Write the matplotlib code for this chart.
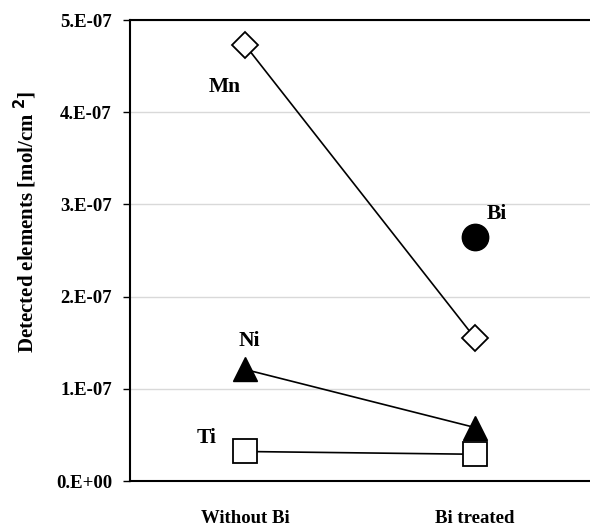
import numpy as np
import matplotlib
matplotlib.use('Agg')
import matplotlib.pyplot as plt
from matplotlib.ticker import FuncFormatter

# detected amounts [mol/cm2] per condition
conditions = ['Without Bi', 'Bi treated']
mn = [4.73e-7, 1.55e-7]
ni = [1.21e-7, 0.58e-7]
ti = [0.32e-7, 0.29e-7]
bi = [2.65e-7]
yticks = [0, 1e-7, 2e-7, 3e-7, 4e-7, 5e-7]

plt.rcParams['font.family'] = 'Liberation Serif'
plt.rcParams['font.weight'] = 'bold'

fig = plt.figure(figsize=(5.9, 5.28), dpi=100)
ax = fig.add_axes([130 / 590, 1 - 481 / 528, 460 / 590, 461 / 528])

x = np.arange(len(conditions))
ax.plot(x, mn, color='black', lw=1.2, marker='D', ms=13, mfc='white', mec='black', mew=1.3, zorder=3)
ax.plot(x, ni, color='black', lw=1.2, marker='^', ms=17, mfc='black', mec='black', zorder=3)
ax.plot(x, ti, color='black', lw=1.2, marker='s', ms=17, mfc='white', mec='black', mew=1.3, zorder=3)
ax.plot(x[1:], bi, ls='none', marker='o', ms=19, mfc='black', mec='black', zorder=3)

# element names next to their markers
lab = dict(fontsize=15.5, fontweight='bold', ha='center', va='center')
ax.text(x[0] - 0.09, mn[0] - 0.46e-7, 'Mn', **lab)
ax.text(x[1] + 0.095, bi[0] + 0.25e-7, 'Bi', **lab)
ax.text(x[0] + 0.02, ni[0] + 0.31e-7, 'Ni', **lab)
ax.text(x[0] - 0.165, ti[0] + 0.15e-7, 'Ti', **lab)

ax.set_xlim(-0.5, 1.5)
ax.set_ylim(0, 5e-7)
ax.set_yticks(yticks)
ax.yaxis.set_major_formatter(FuncFormatter(lambda v, p: '%d.E%+03d' % (round(v * 1e7), -7) if v else '0.E+00'))
ax.set_xticks(x)
ax.set_xticklabels(conditions, fontsize=13.5, fontweight='bold')
ax.tick_params(axis='x', length=0, pad=21)
ax.tick_params(axis='y', length=5, width=1, labelsize=13.5, pad=8)
ax.grid(axis='y', color='#d9d9d9', lw=1)
ax.set_axisbelow(True)
ax.set_ylabel('Detected elements [mol/cm $^{\\mathbf{2}}$]', fontsize=15, fontweight='bold')
ax.yaxis.set_label_coords(-0.197, 0.562)

ax.spines['right'].set_visible(False)
for s in ['left', 'top', 'bottom']:
    ax.spines[s].set_linewidth(1.5)

fig.savefig('out.png', dpi=100)
